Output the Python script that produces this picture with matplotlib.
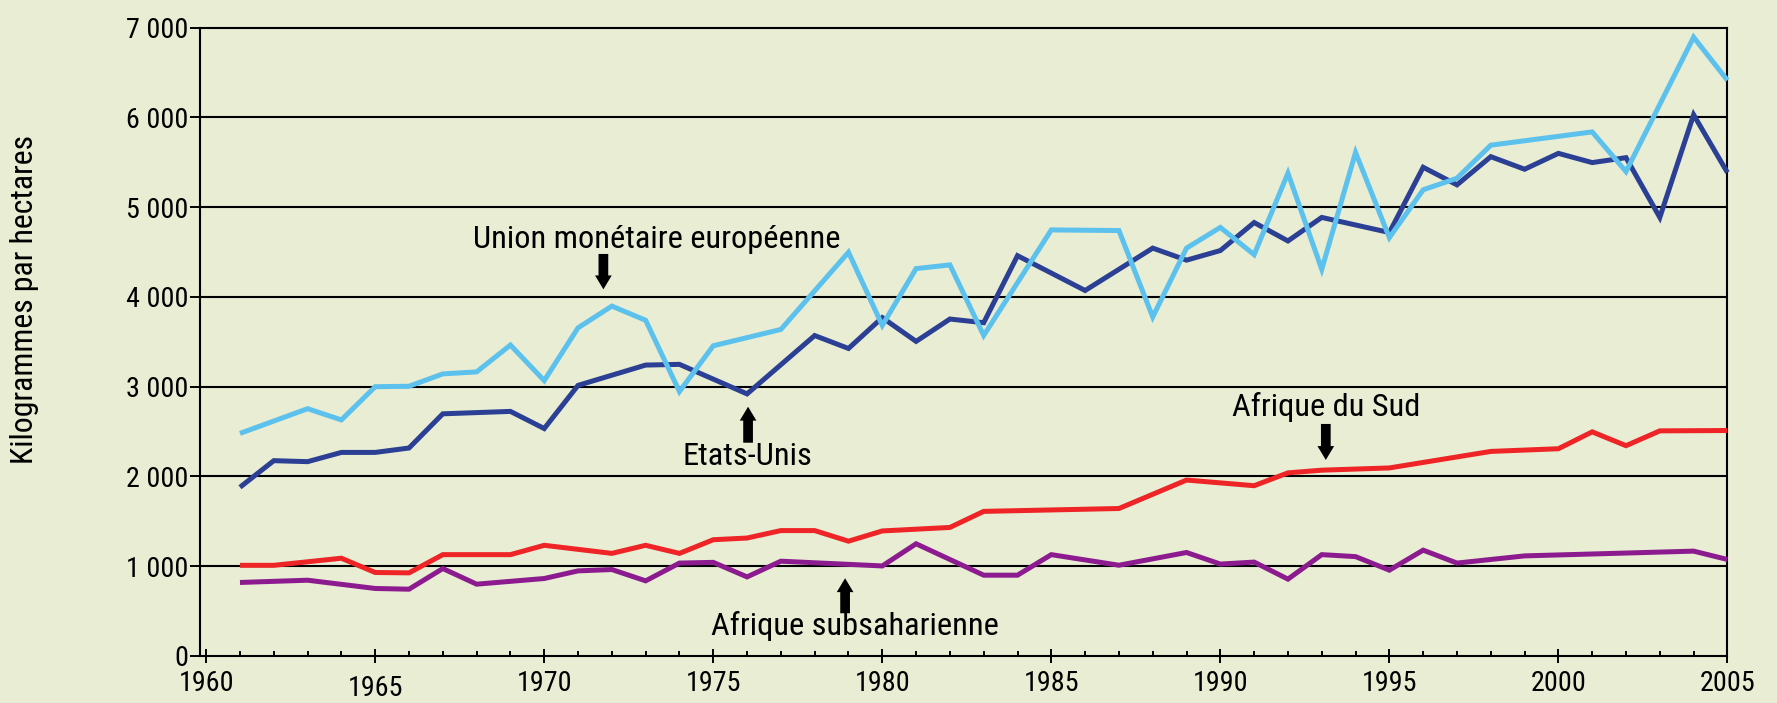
import matplotlib
matplotlib.use("Agg")
import os
import matplotlib.pyplot as plt
from matplotlib import font_manager
from matplotlib.font_manager import FontProperties
from matplotlib.ticker import MultipleLocator
from matplotlib.transforms import ScaledTranslation

# Union monétaire européenne
emu_years = [1961, 1963, 1964, 1965, 1966, 1967, 1968, 1969, 1970, 1971, 1972, 1973, 1974, 1975,
             1977, 1979, 1980, 1981, 1982, 1983, 1985, 1987, 1988, 1989, 1990, 1991, 1992, 1993,
             1994, 1995, 1996, 1997, 1998, 2001, 2002, 2004, 2005]
emu_vals = [2480, 2755, 2630, 3000, 3005, 3143, 3165, 3464, 3068, 3656, 3898, 3740, 2946, 3456,
            3638, 4498, 3683, 4316, 4357, 3571, 4747, 4740, 3777, 4544, 4775, 4471, 5379, 4308,
            5610, 4661, 5194, 5323, 5691, 5839, 5397, 6894, 6414]

# Etats-Unis
usa_years = [1961, 1962, 1963, 1964, 1965, 1966, 1967, 1969, 1970, 1971, 1973, 1974, 1976, 1978,
             1979, 1980, 1981, 1982, 1983, 1984, 1986, 1988, 1989, 1990, 1991, 1992, 1993, 1995,
             1996, 1997, 1998, 1999, 2000, 2001, 2002, 2003, 2004, 2005]
usa_vals = [1880, 2176, 2165, 2268, 2268, 2317, 2698, 2725, 2534, 3015, 3241, 3249, 2920, 3570,
            3426, 3770, 3505, 3754, 3713, 4460, 4072, 4544, 4410, 4517, 4829, 4624, 4886, 4718,
            5445, 5249, 5563, 5423, 5600, 5497, 5552, 4886, 6030, 5386]

# Afrique du Sud
rsa_years = [1961, 1962, 1964, 1965, 1966, 1967, 1969, 1970, 1972, 1973, 1974, 1975, 1976, 1977,
             1978, 1979, 1980, 1982, 1983, 1987, 1989, 1991, 1992, 1993, 1995, 1998, 2000, 2001,
             2002, 2003, 2005]
rsa_vals = [1010, 1010, 1089, 930, 926, 1129, 1129, 1233, 1143, 1233, 1143, 1295, 1314, 1397,
            1397, 1279, 1393, 1432, 1611, 1643, 1960, 1897, 2040, 2070, 2095, 2279, 2309, 2497,
            2343, 2508, 2512]

# Afrique subsaharienne
ssa_years = [1961, 1963, 1965, 1966, 1967, 1968, 1970, 1971, 1972, 1973, 1974, 1975, 1976, 1977,
             1980, 1981, 1983, 1984, 1985, 1987, 1989, 1990, 1991, 1992, 1993, 1994, 1995, 1996,
             1997, 1999, 2004, 2005]
ssa_vals = [819, 844, 752, 744, 974, 800, 863, 948, 963, 837, 1035, 1043, 881, 1056,
            1003, 1250, 900, 900, 1129, 1011, 1153, 1024, 1046, 856, 1129, 1107, 956, 1179,
            1035, 1115, 1168, 1075]

ytick_vals = [0, 1000, 2000, 3000, 4000, 5000, 6000, 7000]
ytick_labels = ['0', '1 000', '2 000', '3 000', '4 000', '5 000', '6 000', '7 000']
xtick_vals = [1960, 1965, 1970, 1975, 1980, 1985, 1990, 1995, 2000, 2005]


# police étroite (type Arial Narrow) si elle existe, sinon Liberation Sans
def pick_font():
    wanted = ['liberationsansnarrow-regular', 'arialn.', 'arial narrow', 'notosans-condensed.',
              'robotocondensed-regular', 'opensans_condensed', 'dejavusanscondensed.',
              'notosans-semicondensed.']
    files = [f.fname for f in font_manager.fontManager.ttflist]
    for w in wanted:
        for fn in files:
            if w in os.path.basename(fn).lower():
                return FontProperties(fname=fn)
    return FontProperties(family='Liberation Sans')


fp = pick_font()

bg = '#E8EDD4'
fig = plt.figure(figsize=(17.77, 7.03), dpi=100, facecolor=bg)
renderer = fig.canvas.get_renderer()


def fit_size(s, width_px, max_size):
    t = fig.text(0, 0, s, fontproperties=fp, fontsize=20)
    w = t.get_window_extent(renderer).width
    t.remove()
    return min(max_size, 20 * width_px / w)


ann_size = fit_size('Union monétaire européenne', 365, 24.5)
tick_size = fit_size('1975', 55.5, 22)
ylab_size = fit_size('Kilogrammes par hectares', 329, 25)

ax = fig.add_axes([0.1126, 0.0669, 0.9721 - 0.1126, 0.9606 - 0.0669])
ax.set_facecolor(bg)

for y in ytick_vals[1:-1]:
    ax.axhline(y, color='black', lw=1.5, zorder=1)

style = dict(lw=3.6, solid_joinstyle='miter', solid_capstyle='butt', clip_on=False, zorder=3)
ax.plot(usa_years, usa_vals, color='#2B3F94', **style)
ax.plot(emu_years, emu_vals, color='#5CC1EC', **style)
ax.plot(rsa_years, rsa_vals, color='#EE2426', **style)
ax.plot(ssa_years, ssa_vals, color='#8C1B8F', **style)

ax.set_xlim(1959.82, 2005)
ax.set_ylim(0, 7000)
for s in ax.spines.values():
    s.set_linewidth(1.5)
    s.set_color('black')

ax.set_yticks(ytick_vals)
ax.set_yticklabels(ytick_labels)
ax.set_xticks(xtick_vals)
ax.set_xticklabels([str(v) for v in xtick_vals])
ax.xaxis.set_minor_locator(MultipleLocator(1))
ax.tick_params(axis='y', direction='out', length=7.2, width=1.4, pad=1.5)
ax.tick_params(axis='x', which='major', direction='inout', length=10, width=1.4, pad=5)
ax.tick_params(axis='x', which='minor', direction='in', length=3.6, width=1.4)

for lab in ax.get_xticklabels() + ax.get_yticklabels():
    lab.set_fontproperties(fp)
    lab.set_fontsize(tick_size)

# le libellé 1965 est décalé vers le bas
for lab in ax.get_xticklabels():
    if lab.get_text() == '1965':
        lab.set_transform(lab.get_transform() + ScaledTranslation(0, -0.05, fig.dpi_scale_trans))

fig.text(25 / 1777, 1 - 300 / 703, 'Kilogrammes par hectares', rotation=90,
         ha='center', va='center', fontproperties=fp, fontsize=ylab_size)

arrow = dict(arrowstyle='simple,head_width=12,head_length=10,tail_width=7',
             fc='black', ec='black', lw=0, shrinkA=0, shrinkB=0, mutation_scale=1)
txt = dict(fontproperties=fp, fontsize=ann_size, ha='center', va='baseline', zorder=5)

ax.text(1973.32, 4549, 'Union monétaire européenne', **txt)
ax.annotate('', xy=(1971.75, 4085), xytext=(1971.75, 4479), arrowprops=arrow)

ax.text(1976.0, 2128, 'Etats-Unis', **txt)
ax.annotate('', xy=(1976.03, 2777), xytext=(1976.03, 2376), arrowprops=arrow)

ax.text(1993.13, 2674, 'Afrique du Sud', **txt)
ax.annotate('', xy=(1993.12, 2184), xytext=(1993.12, 2585), arrowprops=arrow)

ax.text(1979.19, 234, 'Afrique subsaharienne', **txt)
ax.annotate('', xy=(1978.9, 866), xytext=(1978.9, 476), arrowprops=arrow)

fig.savefig('out.png', dpi=100, facecolor=bg)
